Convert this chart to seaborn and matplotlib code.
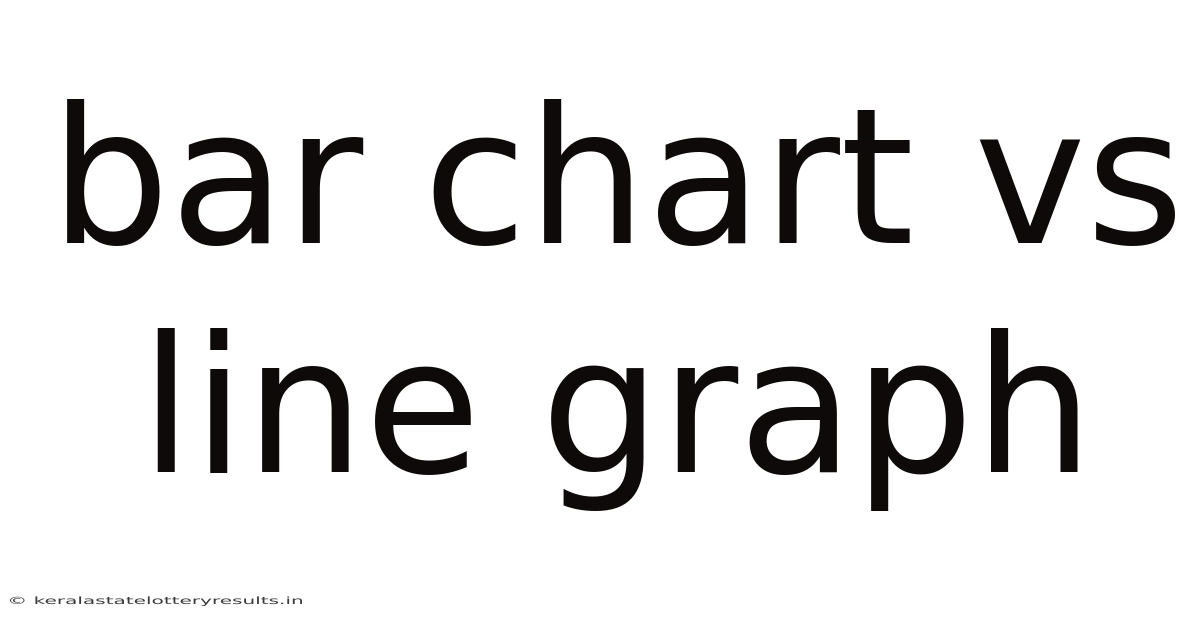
import matplotlib
matplotlib.use("Agg")
import matplotlib.pyplot as plt
import seaborn as sns
from matplotlib.textpath import TextPath
from matplotlib.patches import PathPatch
from matplotlib.font_manager import FontProperties
from matplotlib.transforms import Affine2D

# text content of the card
title_lines = ["bar chart vs", "line graph"]
footer_text = "\u00a9 keralastatelotteryresults.in"

sns.set_theme(style="white")
plt.rcParams['font.family'] = ['DejaVu Sans']

fig = plt.figure(figsize=(12, 6.28), dpi=100)
ax = fig.add_axes([0, 0, 1, 1])
ax.set_axis_off()
# 1 data unit = 1 pixel, y grows downward
ax.set_xlim(0, 1200)
ax.set_ylim(628, 0)

# baselines of the two big lines, in pixels from top
baselines = [243, 472]
for line, y in zip(title_lines, baselines):
    ax.text(617, y, line, ha='center', va='baseline', fontsize=136,
            color='#0f0a0a')

# footer is drawn wide (stretched horizontally), so go through a TextPath
tp = TextPath((0, 0), footer_text, size=10,
              prop=FontProperties(family='DejaVu Sans'))
ext = tp.get_extents()
sx = 292 / ext.width
tr = Affine2D().translate(-ext.x0, 0).scale(sx, -1).translate(10, 604)
ax.add_patch(PathPatch(tr.transform_path(tp), facecolor='#3a3a3a', lw=0))

fig.savefig("out.png", dpi=100, facecolor='white')
